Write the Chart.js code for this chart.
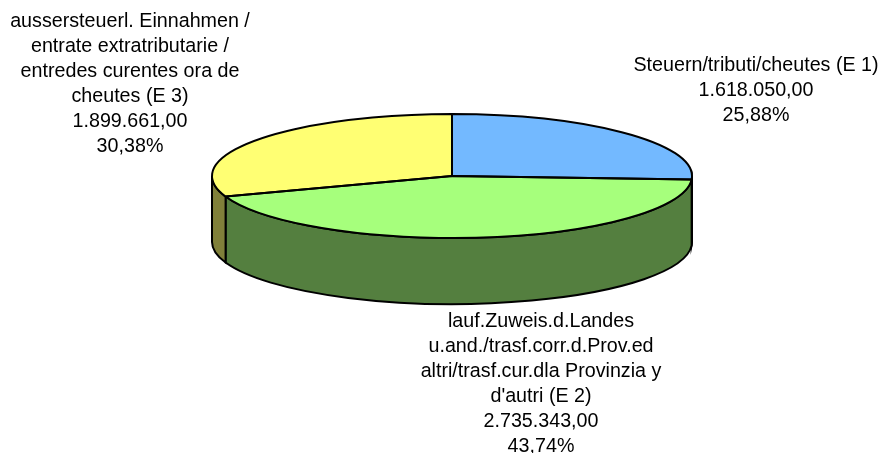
<!DOCTYPE html>
<html>
<head>
<meta charset="utf-8">
<script src="https://cdn.jsdelivr.net/npm/chart.js@4"></script>
<style>
html, body { margin: 0; padding: 0; background: #fff; overflow: hidden; }
#wrap { width: 880px; height: 453px; }
</style>
</head>
<body>
<div id="wrap"><canvas id="myChart" width="880" height="453"></canvas></div>
<script>
const categories = [
    ['Steuern/tributi/cheutes (E 1)'],
    ['lauf.Zuweis.d.Landes', 'u.and./trasf.corr.d.Prov.ed', 'altri/trasf.cur.dla Provinzia y', "d'autri (E 2)"],
    ['aussersteuerl. Einnahmen /', 'entrate extratributarie /', 'entredes curentes ora de', 'cheutes (E 3)']
];
const values = [1618050.00, 2735343.00, 1899661.00];
const valueLabels = ['1.618.050,00', '2.735.343,00', '1.899.661,00'];
const percentLabels = ['25,88%', '43,74%', '30,38%'];

const topColors = ['#73b9ff', '#a6ff7c', '#ffff73'];
const sideColors = ['#3a5d80', '#547f3f', '#80803a'];
const labelCenterX = [756, 541, 130];
const labelFirstY = [66, 322, 22];

const squash = 62 / 240;
const depth = 66;

const pie3d = {
    id: 'pie3d',
    beforeDatasetsDraw(chart) {
        const ctx = chart.ctx;
        const arcs = chart.getDatasetMeta(0).data;
        // wall first, only the part of the rim facing the viewer
        arcs.forEach(function (arc, i) {
            const from = Math.max(arc.startAngle, 0);
            const to = Math.min(arc.endAngle, Math.PI);
            if (to <= from) return;
            const rx = arc.outerRadius;
            const ry = rx * squash;
            ctx.save();
            ctx.beginPath();
            ctx.ellipse(arc.x, arc.y, rx, ry, 0, from, to);
            ctx.ellipse(arc.x, arc.y + depth, rx, ry, 0, to, from, true);
            ctx.closePath();
            ctx.fillStyle = sideColors[i];
            ctx.fill();
            ctx.lineWidth = 2;
            ctx.strokeStyle = '#000';
            ctx.stroke();
            ctx.restore();
        });
        // flatten the library's arcs into the top ellipse
        const c = arcs[0];
        ctx.save();
        ctx.translate(c.x, c.y);
        ctx.scale(1, squash);
        ctx.translate(-c.x, -c.y);
    },
    afterDatasetsDraw(chart) {
        const ctx = chart.ctx;
        ctx.restore();
        const arcs = chart.getDatasetMeta(0).data;
        ctx.save();
        ctx.lineWidth = 2;
        ctx.strokeStyle = '#000';
        arcs.forEach(function (arc) {
            ctx.beginPath();
            ctx.moveTo(arc.x, arc.y);
            ctx.ellipse(arc.x, arc.y, arc.outerRadius, arc.outerRadius * squash, 0, arc.startAngle, arc.endAngle);
            ctx.closePath();
            ctx.stroke();
        });
        // labels
        ctx.fillStyle = '#000';
        ctx.font = '19.7px "Liberation Sans", Arial, sans-serif';
        ctx.textAlign = 'center';
        ctx.textBaseline = 'middle';
        categories.forEach(function (lines, i) {
            const all = lines.concat([valueLabels[i], percentLabels[i]]);
            all.forEach(function (line, j) {
                ctx.fillText(line, labelCenterX[i], labelFirstY[i] + j * 24.9);
            });
        });
        ctx.restore();
    }
};

const myChart = new Chart(document.getElementById('myChart').getContext('2d'), {
    type: 'pie',
    data: {
        labels: categories.map(function (c) { return c.join(' '); }),
        datasets: [{
            data: values,
            backgroundColor: topColors,
            borderWidth: 0,
            radius: 240,
            clip: false
        }]
    },
    options: {
        responsive: false,
        animation: false,
        layout: { padding: { left: 24, right: 0, top: 0, bottom: 101 } },
        plugins: { legend: { display: false }, tooltip: { enabled: false } }
    },
    plugins: [pie3d]
});
</script>
</body>
</html>
